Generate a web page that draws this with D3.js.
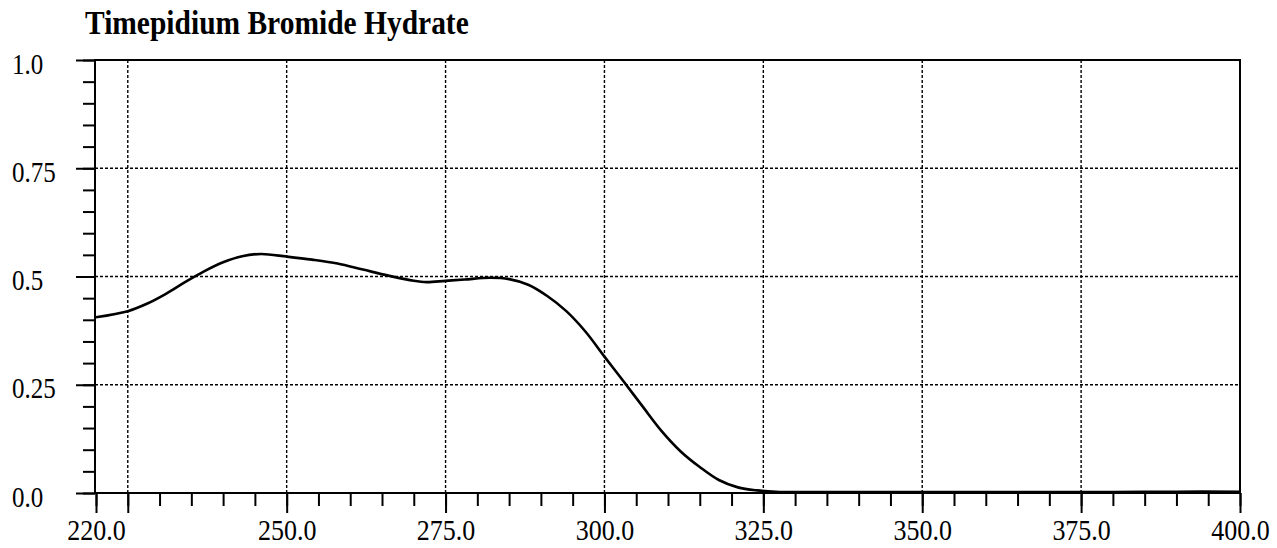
<!DOCTYPE html>
<html>
<head>
<meta charset="utf-8">
<script src="https://cdn.jsdelivr.net/npm/d3@7"></script>
<style>
  html, body { margin: 0; padding: 0; background: #fff; }
  svg { display: block; }
</style>
</head>
<body>
<svg id="chart" width="1277" height="548"></svg>
<script>
// ---- data ----
const title = "Timepidium Bromide Hydrate";
const wavelengths = [220, 225, 228, 231, 234, 237, 240, 243, 246, 250, 254, 258, 262, 266, 270, 272, 275, 278, 282, 285, 288, 291, 294, 297, 300, 303, 306, 309, 312, 315, 318, 321, 324, 327, 330, 340, 350, 360, 370, 380, 390, 400];
const absorbance  = [0.406, 0.420, 0.437, 0.460, 0.487, 0.512, 0.533, 0.547, 0.552, 0.546, 0.539, 0.530, 0.516, 0.502, 0.490, 0.487, 0.490, 0.493, 0.497, 0.494, 0.481, 0.455, 0.420, 0.373, 0.315, 0.258, 0.200, 0.143, 0.096, 0.060, 0.030, 0.013, 0.006, 0.003, 0.002, 0.002, 0.002, 0.002, 0.002, 0.002, 0.003, 0.003];
const xDomain = [220, 400];
const yDomain = [0, 1];
const xLabelValues = [220, 250, 275, 300, 325, 350, 375, 400];
const xLabelTexts  = ["220.0", "250.0", "275.0", "300.0", "325.0", "350.0", "375.0", "400.0"];
const xMajorTicks  = [220, 225, 250, 275, 300, 325, 350, 375, 400];
const xGridValues  = [225, 250, 275, 300, 325, 350, 375];
const yLabelValues = [0, 0.25, 0.5, 0.75, 1.0];
const yLabelTexts  = ["0.0", "0.25", "0.5", "0.75", "1.0"];
const yGridValues  = [0.25, 0.5, 0.75];

// ---- layout ----
const svg = d3.select("#chart");
const L = 95, R = 1240, T = 60, B = 493;
const x = d3.scaleLinear().domain(xDomain).range([L + 1, R]);
const y = d3.scaleLinear().domain(yDomain).range([B, T]);

const serif = "'Liberation Serif', 'Times New Roman', serif";
const vStretch = 1.15;

svg.append("rect").attr("width", 1277).attr("height", 548).attr("fill", "#fff");

// title
svg.append("text")
  .attr("transform", `translate(85,34) scale(1,${vStretch})`)
  .attr("font-family", serif).attr("font-weight", "bold").attr("font-size", 29.5)
  .attr("fill", "#000").text(title);

// grid lines
svg.append("g").selectAll("line").data(yGridValues).join("line")
  .attr("x1", L).attr("x2", R)
  .attr("y1", d => y(d)).attr("y2", d => y(d))
  .attr("stroke", "#000").attr("stroke-width", 1.4).attr("stroke-dasharray", "3,2");
svg.append("g").selectAll("line").data(xGridValues).join("line")
  .attr("x1", d => x(d)).attr("x2", d => x(d))
  .attr("y1", T).attr("y2", B)
  .attr("stroke", "#000").attr("stroke-width", 1.4).attr("stroke-dasharray", "3,2");

// y minor ticks (every 0.05)
const yMinor = d3.range(0, 1.0001, 0.05).map(v => +v.toFixed(2));
const yMinorAxis = d3.axisLeft(y).tickValues(yMinor).tickSize(12).tickFormat("");
const gyMin = svg.append("g").attr("transform", `translate(${L},0)`).call(yMinorAxis);
// y major ticks with labels
const yMajorAxis = d3.axisLeft(y).tickValues(yLabelValues).tickSize(19)
  .tickFormat((d, i) => yLabelTexts[i]);
const gyMaj = svg.append("g").attr("transform", `translate(${L},0)`).call(yMajorAxis);

// x minor ticks (every 5)
const xMinor = d3.range(220, 400.001, 5);
const xMinorAxis = d3.axisBottom(x).tickValues(xMinor).tickSize(13).tickFormat("");
const gxMin = svg.append("g").attr("transform", `translate(0,${B})`).call(xMinorAxis);
const xMajorAxis = d3.axisBottom(x).tickValues(xMajorTicks).tickSize(20).tickFormat("");
const gxMaj = svg.append("g").attr("transform", `translate(0,${B})`).call(xMajorAxis);
const xLabelAxis = d3.axisBottom(x).tickValues(xLabelValues).tickSize(0)
  .tickFormat((d, i) => xLabelTexts[i]);
const gxLab = svg.append("g").attr("transform", `translate(0,${B})`).call(xLabelAxis);

[gyMin, gyMaj, gxMin, gxMaj, gxLab].forEach(g => {
  g.select(".domain").remove();
  g.selectAll(".tick line").attr("stroke", "#000").attr("stroke-width", 2);
});
gyMaj.selectAll(".tick text")
  .attr("text-anchor", "start").attr("x", 12 - L).attr("y", 0).attr("dy", "0.32em")
  .attr("transform", `translate(0,4) scale(1,${vStretch})`)
  .attr("font-family", serif).attr("font-size", 25).attr("fill", "#000");
gxLab.selectAll(".tick text")
  .attr("y", 0).attr("dy", 0)
  .attr("transform", `translate(0,47) scale(1,${vStretch})`)
  .attr("font-family", serif).attr("font-size", 26).attr("fill", "#000");

// frame
svg.append("path")
  .attr("d", `M${L},${T}H${R}V${B}H${L}Z`)
  .attr("fill", "none").attr("stroke", "#000").attr("stroke-width", 2);

// spectrum line
const line = d3.line()
  .x((d, i) => x(wavelengths[i]))
  .y(d => y(d))
  .curve(d3.curveCatmullRom.alpha(0.5));
svg.append("path").datum(absorbance)
  .attr("d", line)
  .attr("fill", "none").attr("stroke", "#000").attr("stroke-width", 2.6)
  .attr("stroke-linejoin", "round");
</script>
</body>
</html>
